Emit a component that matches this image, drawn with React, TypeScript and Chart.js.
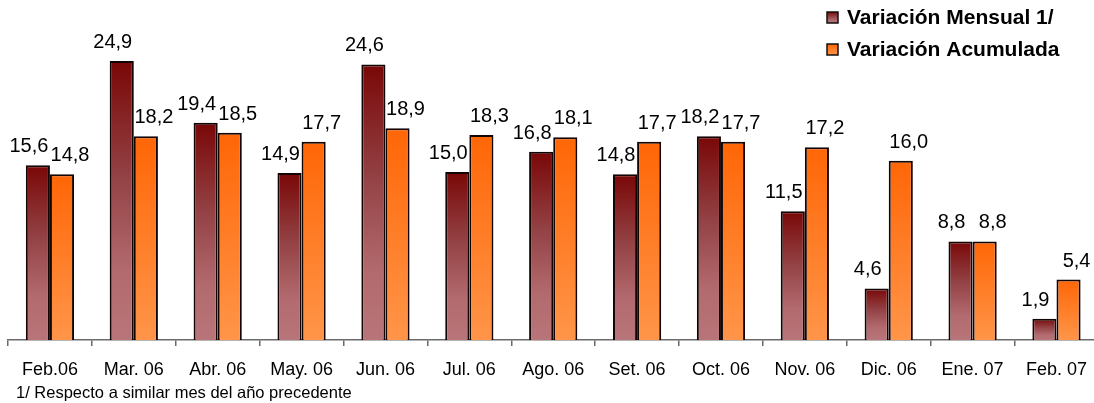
import { useEffect, useRef } from "react"
import { Chart, registerables } from "chart.js"

Chart.register(...registerables)

const categories = [
  "Feb.06", "Mar. 06", "Abr. 06", "May. 06", "Jun. 06", "Jul. 06", "Ago. 06",
  "Set. 06", "Oct. 06", "Nov. 06", "Dic. 06", "Ene. 07", "Feb. 07",
]
const mensual = [15.6, 24.9, 19.4, 14.9, 24.6, 15.0, 16.8, 14.8, 18.2, 11.5, 4.6, 8.8, 1.9]
const acumulada = [14.8, 18.2, 18.5, 17.7, 18.9, 18.3, 18.1, 17.7, 17.7, 17.2, 16.0, 8.8, 5.4]
const seriesNames = ["Variación Mensual 1/", "Variación Acumulada"]
const footnote = "1/ Respecto a similar mes del año precedente"

const FONT = "'Liberation Sans', Arial, sans-serif"

// gradientes por barra (oscuro arriba, claro abajo)
const darkStops: [number, string][] = [
  [0, "#7a0707"],
  [0.4, "#924043"],
  [0.75, "#b26a6e"],
  [1, "#b87579"],
]
const orangeStops: [number, string][] = [
  [0, "#ff6606"],
  [1, "#ff9549"],
]

function makeGradient(ctx: CanvasRenderingContext2D, top: number, bottom: number, stops: [number, string][]) {
  const g = ctx.createLinearGradient(0, top, 0, bottom)
  stops.forEach(([o, c]) => g.addColorStop(o, c))
  return g
}

function barFill(stops: [number, string][]) {
  return (c: any) => {
    const chart = c.chart
    if (!chart.chartArea || c.type !== "data") return stops[0][1]
    const y = chart.scales.y
    const top = y.getPixelForValue(c.raw)
    const base = y.getPixelForValue(0)
    return makeGradient(chart.ctx, top, base, stops)
  }
}

const valueLabels = {
  id: "valueLabels",
  afterDatasetsDraw(chart: any) {
    const ctx = chart.ctx
    ctx.save()
    ctx.font = `20px ${FONT}`
    ctx.fillStyle = "#000"
    ctx.textAlign = "center"
    ctx.textBaseline = "alphabetic"
    chart.data.datasets.forEach((ds: any, i: number) => {
      const meta = chart.getDatasetMeta(i)
      const shift = i === 0 ? -9 : 8
      meta.data.forEach((el: any, j: number) => {
        const txt = ds.data[j].toFixed(1).replace(".", ",")
        ctx.fillText(txt, el.x + shift, el.y - 13)
      })
    })
    ctx.restore()
  },
}

const cornerLegend = {
  id: "cornerLegend",
  afterDraw(chart: any) {
    const ctx = chart.ctx
    ctx.save()
    const rows = [
      { y: 12, stops: darkStops },
      { y: 44, stops: orangeStops },
    ]
    rows.forEach((r, i) => {
      ctx.fillStyle = makeGradient(ctx, r.y, r.y + 11, r.stops)
      ctx.fillRect(827, r.y, 11, 11)
      ctx.strokeStyle = "#111"
      ctx.lineWidth = 1.5
      ctx.strokeRect(827, r.y, 11, 11)
      ctx.fillStyle = "#000"
      ctx.font = `bold 21px ${FONT}`
      ctx.textAlign = "left"
      ctx.textBaseline = "alphabetic"
      ctx.fillText(seriesNames[i], 847, r.y + 12)
    })
    // nota al pie
    ctx.font = `16.5px ${FONT}`
    ctx.fillText(footnote, 16, 398)
    ctx.restore()
  },
}

export default function App() {
  const chartRef = useRef<HTMLCanvasElement>(null)
  const chartInstance = useRef<Chart | null>(null)

  useEffect(() => {
    document.body.style.margin = "0"
    if (!chartRef.current) return
    if (chartInstance.current) chartInstance.current.destroy()

    const ctx = chartRef.current.getContext("2d")
    if (!ctx) return

    chartInstance.current = new Chart(ctx, {
      type: "bar",
      data: {
        labels: categories,
        datasets: [
          {
            label: seriesNames[0],
            data: mensual,
            backgroundColor: barFill(darkStops),
            borderColor: "#140505",
            borderWidth: 2,
          },
          {
            label: seriesNames[1],
            data: acumulada,
            backgroundColor: barFill(orangeStops),
            borderColor: "#140505",
            borderWidth: 2,
          },
        ],
      },
      options: {
        responsive: false,
        animation: false,
        layout: { padding: { left: 8, right: 0, top: 4, bottom: 0 } },
        datasets: {
          bar: { barPercentage: 1, categoryPercentage: 0.575 },
        },
        scales: {
          y: { display: false, min: 0, max: 30 },
          x: {
            afterFit: (scale: any) => {
              scale.height = 63
            },
            grid: {
              display: true,
              drawOnChartArea: false,
              drawTicks: true,
              tickLength: 6,
              color: "#6a6a6a",
              lineWidth: 1.5,
              offset: true,
            },
            border: { display: true, color: "#6a6a6a", width: 1.5 },
            ticks: {
              color: "#000",
              font: { family: FONT, size: 18 },
              padding: 13,
              maxRotation: 0,
              autoSkip: false,
            },
          },
        },
        plugins: {
          legend: { display: false },
          tooltip: { enabled: false },
        },
      },
      plugins: [valueLabels, cornerLegend],
    })

    return () => {
      if (chartInstance.current) {
        chartInstance.current.destroy()
        chartInstance.current = null
      }
    }
  }, [])

  return (
    <div style={{ width: 1094, height: 403, overflow: "hidden", position: "relative", background: "#fff" }}>
      <canvas ref={chartRef} width={1100} height={403} style={{ width: 1100, height: 403, display: "block" }} />
    </div>
  )
}
